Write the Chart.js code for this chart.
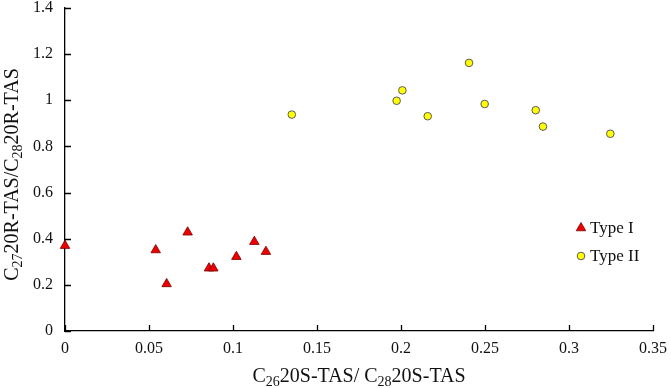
<!DOCTYPE html>
<html>
<head>
<meta charset="utf-8">
<script src="https://cdn.jsdelivr.net/npm/chart.js@4.4.0/dist/chart.umd.min.js"></script>
<style>
  html, body { margin: 0; padding: 0; background: #fff; }
  #wrap { width: 671px; height: 388px; position: relative; }
</style>
</head>
<body>
<div id="wrap"><canvas id="js-chart-tas" width="671" height="388"></canvas></div>
<script>
// Chart data
const typeIX = [0, 0.054, 0.0605, 0.073, 0.0857, 0.0883, 0.102, 0.1127, 0.1196];
const typeIY = [0.37, 0.351, 0.204, 0.428, 0.272, 0.272, 0.322, 0.387, 0.344];
const typeIIX = [0.135, 0.1974, 0.2008, 0.2159, 0.2405, 0.2498, 0.2802, 0.2845, 0.3246];
const typeIIY = [0.938, 0.998, 1.043, 0.931, 1.162, 0.984, 0.957, 0.886, 0.855];
const seriesLabels = ['Type I', 'Type II'];
const xTicks = [0, 0.05, 0.1, 0.15, 0.2, 0.25, 0.3, 0.35];
const yTicks = [0, 0.2, 0.4, 0.6, 0.8, 1, 1.2, 1.4];

const FONT = "'Liberation Serif', 'Times New Roman', serif";

function toPoints(xs, ys) {
  return xs.map((x, i) => ({x: x, y: ys[i]}));
}

// Text with subscripts, parts = [[text, isSub], ...]
function drawRichText(ctx, parts, cx, cy, size) {
  const subSize = Math.round(size * 0.68);
  let total = 0;
  parts.forEach(p => {
    ctx.font = (p[1] ? subSize : size) + 'px ' + FONT;
    total += ctx.measureText(p[0]).width;
  });
  let x = cx - total / 2;
  ctx.textAlign = 'left';
  ctx.textBaseline = 'alphabetic';
  ctx.fillStyle = '#111';
  parts.forEach(p => {
    ctx.font = (p[1] ? subSize : size) + 'px ' + FONT;
    ctx.fillText(p[0], x, cy + (p[1] ? size * 0.22 : 0));
    x += ctx.measureText(p[0]).width;
  });
}

// Inward tick marks, axis titles and legend
const decorPlugin = {
  id: 'decor',
  afterDraw(chart) {
    const ctx = chart.ctx;
    const area = chart.chartArea;
    const xs = chart.scales.x, ys = chart.scales.y;
    ctx.save();
    ctx.strokeStyle = '#000';
    ctx.lineWidth = 1.3;
    ctx.beginPath();
    xTicks.forEach(v => {
      const px = Math.round(xs.getPixelForValue(v)) + 0.5;
      ctx.moveTo(px, area.bottom);
      ctx.lineTo(px, area.bottom - 6);
    });
    yTicks.forEach(v => {
      const py = Math.round(ys.getPixelForValue(v)) + 0.5;
      ctx.moveTo(area.left, py);
      ctx.lineTo(area.left + 6, py);
    });
    ctx.stroke();

    // X axis title
    drawRichText(ctx, [['C', false], ['26', true], ['20S-TAS/ C', false], ['28', true], ['20S-TAS', false]],
      (area.left + area.right) / 2, 382, 20);

    // Y axis title
    ctx.save();
    ctx.translate(18, (area.top + area.bottom) / 2 + 5);
    ctx.rotate(-Math.PI / 2);
    drawRichText(ctx, [['C', false], ['27', true], ['20R-TAS/C', false], ['28', true], ['20R-TAS', false]],
      0, 0, 20);
    ctx.restore();

    // Legend
    chart.data.datasets.forEach((ds, i) => {
      const lx = 581, ly = 228 + i * 28;
      ctx.fillStyle = ds.backgroundColor;
      ctx.strokeStyle = ds.borderColor;
      ctx.lineWidth = ds.borderWidth;
      Chart.helpers.drawPoint(ctx, {pointStyle: ds.pointStyle, radius: ds.pointRadius, borderWidth: ds.borderWidth}, lx, ly);
      ctx.font = '17px ' + FONT;
      ctx.fillStyle = '#111';
      ctx.textAlign = 'left';
      ctx.textBaseline = 'middle';
      ctx.fillText(ds.label, 590, ly + 1);
    });
    ctx.restore();
  }
};

const con = document.getElementById('js-chart-tas');
new Chart(con, {
  type: 'scatter',
  data: {
    datasets: [
      {
        label: seriesLabels[0],
        data: toPoints(typeIX, typeIY),
        pointStyle: 'triangle',
        pointRadius: 5.5,
        pointHoverRadius: 5.5,
        backgroundColor: '#ee0000',
        borderColor: '#7a0000',
        borderWidth: 0.8,
        clip: false
      },
      {
        label: seriesLabels[1],
        data: toPoints(typeIIX, typeIIY),
        pointStyle: 'circle',
        pointRadius: 3.8,
        pointHoverRadius: 3.8,
        backgroundColor: '#ffff00',
        borderColor: '#5a5a5a',
        borderWidth: 1,
        clip: false
      }
    ]
  },
  options: {
    responsive: false,
    animation: false,
    events: [],
    layout: {padding: {top: 8, right: 18, left: 0, bottom: 0}},
    plugins: {
      legend: {display: false},
      tooltip: {enabled: false}
    },
    scales: {
      x: {
        type: 'linear',
        min: 0,
        max: 0.35,
        afterFit: s => { s.height = 57; s.paddingLeft = 0; s.paddingRight = 0; },
        afterBuildTicks: s => { s.ticks = xTicks.map(v => ({value: v})); },
        grid: {display: false, drawTicks: false},
        border: {display: true, color: '#000', width: 1.3},
        ticks: {
          padding: 8,
          maxRotation: 0,
          autoSkip: false,
          color: '#111',
          font: {family: FONT, size: 16},
          callback: v => String(parseFloat(v.toFixed(2)))
        }
      },
      y: {
        type: 'linear',
        min: 0,
        max: 1.4,
        afterFit: s => { s.width = 65; s.paddingTop = 0; s.paddingBottom = 0; },
        afterBuildTicks: s => { s.ticks = yTicks.map(v => ({value: v})); },
        grid: {display: false, drawTicks: false},
        border: {display: true, color: '#000', width: 1.3},
        ticks: {
          padding: 12,
          autoSkip: false,
          color: '#111',
          font: {family: FONT, size: 16},
          callback: v => String(parseFloat(v.toFixed(1)))
        }
      }
    }
  },
  plugins: [decorPlugin]
});
</script>
</body>
</html>
